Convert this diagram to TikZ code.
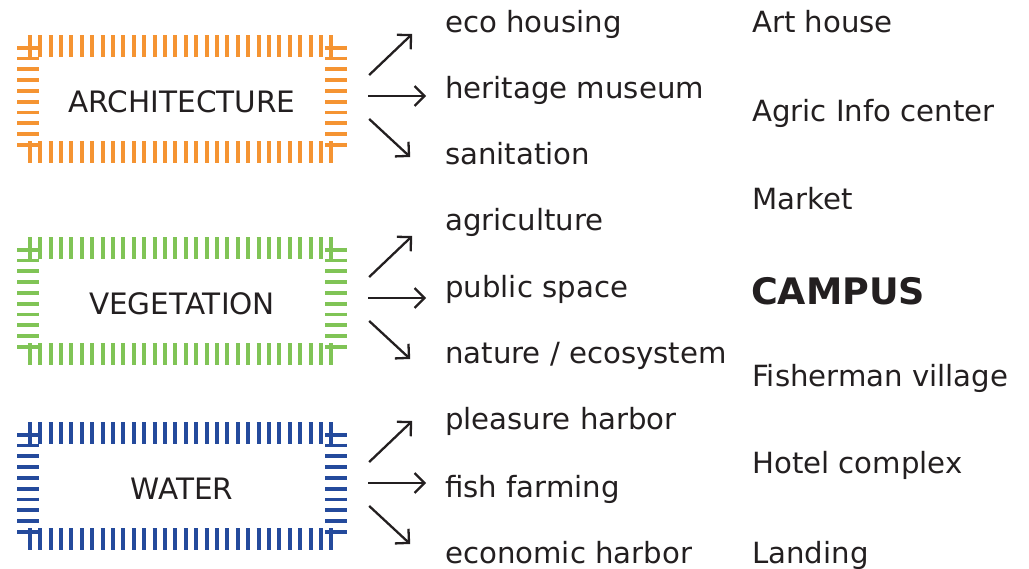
\documentclass[tikz,border=0pt]{standalone}
\usepackage{fontspec}
\setmainfont{DejaVu Sans}
\usetikzlibrary{arrows.meta}

\definecolor{archcol}{RGB}{245,148,50}
\definecolor{vegcol}{RGB}{128,196,86}
\definecolor{watercol}{RGB}{36,74,156}
\definecolor{inkcol}{RGB}{35,31,32}

\tikzset{
  txt/.style={inner sep=0pt, text=inkcol, font=\fontsize{29.2}{34}\selectfont},
  item/.style={txt, anchor=base west},
  themebox/.style={txt, font=\fontsize{29.5}{34}\selectfont,
    minimum width=308pt, minimum height=106pt, text height=28pt, text depth=0pt},
  tickh/.style={line width=22pt, dash pattern=on 4pt off 6.4pt},
  tickv/.style={line width=22pt, dash pattern=on 3.8pt off 7pt},
  arr/.style={line width=2.3pt, draw=inkcol,
    -{Straight Barb[length=10pt,width=20pt,line width=2.3pt]}},
}

\begin{document}
\begin{tikzpicture}[x=1pt,y=-1pt]
  \useasboundingbox (0,0) rectangle (1029,569);

  % theme boxes
  \node[themebox] (arch)  at (182,99)  {ARCHITECTURE};
  \node[themebox] (veg)   at (182,301) {VEGETATION};
  \node[themebox] (water) at (182,486) {WATER};

  % hatched borders
  \foreach \b/\c in {arch/archcol, veg/vegcol, water/watercol}{
    \draw[tickh, \c] (\b.north west) -- (\b.north east);
    \draw[tickh, \c] (\b.south west) -- (\b.south east);
    \draw[tickv, \c] (\b.north west) -- (\b.south west);
    \draw[tickv, \c] (\b.north east) -- (\b.south east);
  }

  % arrows fanning out of each box
  \foreach \b in {arch, veg, water}{
    \draw[arr] ([shift={(33,-24)}]\b.east) -- ++(43,-41);
    \draw[arr] ([shift={(32,-3)}]\b.east) -- ++(58,0);
    \draw[arr] ([shift={(33,20)}]\b.east) -- ++(41,38);
  }

  % uses
  \node[item] (eco)   at (445,33)  {eco housing};
  \node[item] (herit) at (445,99)  {heritage museum};
  \node[item] (sanit) at (445,165) {sanitation};
  \node[item] (agri)  at (445,231) {agriculture};
  \node[item] (publ)  at (445,298) {public space};
  \node[item] (natu)  at (445,364) {nature / ecosystem};
  \node[item] (pleas) at (445,430) {pleasure harbor};
  \node[item] (fish)  at (445,497) {fish farming};
  \node[item] (econ)  at (445,563) {economic harbor};

  % programme
  \node[item] (art)    at (752,33)  {Art house};
  \node[item] (agric)  at (752,122) {Agric Info center};
  \node[item] (market) at (752,210) {Market};
  \node[item, font=\fontsize{36.5}{40}\selectfont\bfseries] (campus) at (751,305) {CAMPUS};
  \node[item] (fisher) at (752,387) {Fisherman village};
  \node[item] (hotel)  at (752,474) {Hotel complex};
  \node[item] (land)   at (752,563) {Landing};
\end{tikzpicture}
\end{document}
